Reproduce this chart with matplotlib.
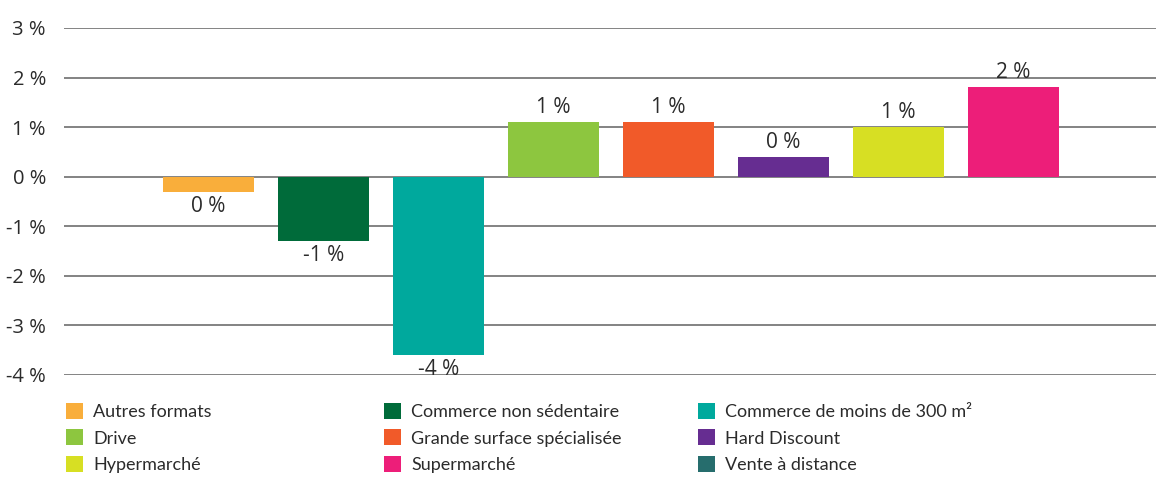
import numpy as np
import matplotlib
matplotlib.use("Agg")
import matplotlib.pyplot as plt
from matplotlib.patches import Patch

# Données
categories = ["Autres formats", "Commerce non sédentaire", "Commerce de moins de 300 m²",
              "Drive", "Grande surface spécialisée", "Hard Discount",
              "Hypermarché", "Supermarché", "Vente à distance"]
valeurs = [-0.3, -1.3, -3.6, 1.1, 1.1, 0.4, 1.0, 1.8, np.nan]
etiquettes = ["0 %", "-1 %", "-4 %", "1 %", "1 %", "0 %", "1 %", "2 %", ""]
couleurs = ["#F9AE3B", "#006B3A", "#00A99D", "#8DC63F", "#F15A29",
            "#662D91", "#D7DF23", "#ED1E79", "#266D6D"]
yticks = [-4, -3, -2, -1, 0, 1, 2, 3]

texte = "#2b2b2b"
plt.rcParams["font.family"] = ["Open Sans", "DejaVu Sans"]

fig = plt.figure(figsize=(11.56, 4.78), dpi=100)
ax = fig.add_axes([64 / 1156, 1 - 375 / 478, 1 - 64 / 1156, 347 / 478])

x = np.arange(len(categories))
barres = ax.bar(x, np.nan_to_num(valeurs), width=0.79, color=couleurs, zorder=3)
ax.bar_label(barres, labels=etiquettes, padding=3, fontsize=15, color=texte)

ax.set_ylim(-4, 3)
ax.set_xlim(-1.2565, 8.239)
ax.set_yticks(yticks)
ax.set_yticklabels([f"{v} %" for v in yticks], fontsize=14.5, color=texte)
ax.set_xticks([])
ax.tick_params(axis="y", length=0, pad=13)
ax.yaxis.grid(True, color="#7a7a7a", linewidth=1.3, zorder=0)
for s in ax.spines.values():
    s.set_visible(False)

# Légende en 3 colonnes, remplie ligne par ligne
col_x = [66, 384, 698]
for c in range(3):
    idx = [c, c + 3, c + 6]
    handles = [Patch(facecolor=couleurs[i], edgecolor="none") for i in idx]
    leg = fig.legend(handles, [categories[i] for i in idx],
                     loc="upper left", bbox_to_anchor=(col_x[c] / 1156, 1 - 403 / 478),
                     frameon=False, handlelength=0.95, handleheight=1.0,
                     handletextpad=0.55, labelspacing=0.5, borderpad=0, borderaxespad=0,
                     prop={"family": ["Lato", "DejaVu Sans"], "size": 13})
    for t in leg.get_texts():
        t.set_color(texte)

fig.savefig("out.png", dpi=100)
plt.close(fig)
